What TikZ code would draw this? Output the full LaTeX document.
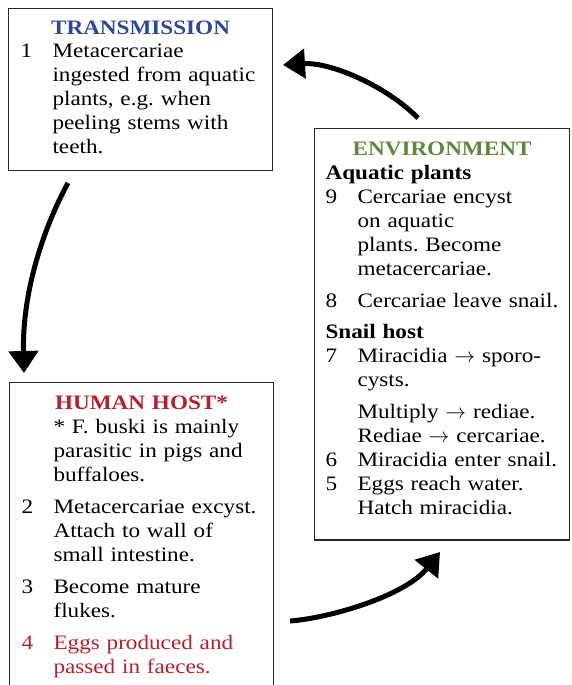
\documentclass[tikz,border=0pt]{standalone}
\usepackage{fontspec}
\setmainfont[FakeStretch=1.13]{Liberation Serif}
\usepackage{array}
\usetikzlibrary{arrows.meta}

\definecolor{transblue}{RGB}{43,71,151}
\definecolor{envgreen}{RGB}{91,138,60}
\definecolor{hostred}{RGB}{181,32,46}
\newcolumntype{N}{@{}p{32pt}}
\newcolumntype{T}[1]{>{\raggedright\arraybackslash}p{#1}@{}}
\setlength{\tabcolsep}{0pt}
\frenchspacing

\begin{document}
\begin{tikzpicture}[x=1pt,y=-1pt,
  box/.style={rectangle,draw=black!85,line width=1.1pt,anchor=north west,
              inner xsep=12pt,inner ysep=9.5pt,align=left,
              font=\fontsize{20.5}{24}\selectfont},
  arr/.style={-{Triangle[length=22pt,width=29pt]},line width=5pt}
]
  \useasboundingbox (0,0) rectangle (571,685);
  \clip (0,0) rectangle (571,685);

  \node[box,text width=240pt] (trans) at (8,8) {%
    \begin{tabular}{NT{208pt}}
      \multicolumn{2}{@{}c@{}}{\textcolor{transblue}{\textbf{TRANSMISSION}}}\\[-1pt]
      1 & Metacercariae\\
        & ingested from aquatic\\
        & plants, e.g. when\\
        & peeling stems with\\
        & teeth.\\
    \end{tabular}};

  \node[box,text width=233pt,inner xsep=11pt,inner ysep=10.2pt] (env) at (314,128) {%
    \begin{tabular}{NT{201pt}}
      \multicolumn{2}{@{}c@{}}{\textcolor{envgreen}{\textbf{ENVIRONMENT}}}\\
      \multicolumn{2}{@{}l@{}}{\textbf{Aquatic plants}}\\
      9 & Cercariae encyst\\
        & on aquatic\\
        & plants. Become\\
        & metacercariae.\\[8pt]
      8 & Cercariae leave snail.\\[7pt]
      \multicolumn{2}{@{}l@{}}{\textbf{Snail host}}\\
      7 & Miracidia $\rightarrow$ sporo-\\
        & cysts.\\[8pt]
        & Multiply $\rightarrow$ rediae.\\
        & Rediae $\rightarrow$ cercariae.\\
      6 & Miracidia enter snail.\\
      5 & Eggs reach water.\\
        & Hatch miracidia.\\[8pt]
    \end{tabular}};

  \node[box,text width=240pt,inner ysep=10.2pt] (host) at (9,382) {%
    \begin{tabular}{NT{208pt}}
      \multicolumn{2}{@{}c@{}}{\textcolor{hostred}{\textbf{HUMAN HOST*}}}\\
        & * F. buski is mainly\\
        & parasitic in pigs and\\
        & buffaloes.\\[8pt]
      2 & Metacercariae excyst.\\
        & Attach to wall of\\
        & small intestine.\\[8pt]
      3 & Become mature\\
        & flukes.\\[8pt]
      \textcolor{hostred}{4} & \textcolor{hostred}{Eggs produced and}\\
        & \textcolor{hostred}{passed in faeces.}\\[30pt]
    \end{tabular}};

  \coordinate (transout) at (68,183);
  \coordinate (hostin) at (24,373);
  \coordinate (hostout) at (290,621);
  \coordinate (envin) at (440,552);
  \coordinate (envout) at (418,118);
  \coordinate (transin) at (283,65);

  \draw[arr] (transout) .. controls (45,225) and (22,290) .. (hostin);
  \draw[arr] (hostout) .. controls (330,618) and (405,596) .. (envin);
  \draw[arr] (envout) .. controls (385,85) and (330,62) .. (transin);
\end{tikzpicture}
\end{document}
